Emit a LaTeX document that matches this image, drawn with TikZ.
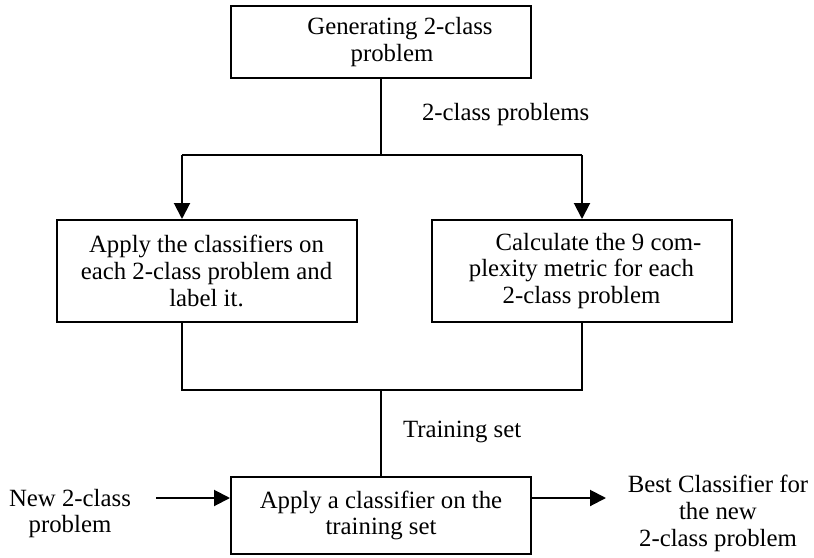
\documentclass[tikz,border=0pt]{standalone}
\usepackage{fontspec}
\setmainfont{Liberation Serif}
\usepackage{tikz}
\usetikzlibrary{arrows, arrows.meta}
\usetikzlibrary{positioning}
\usetikzlibrary{calc}

\begin{document}
\begin{tikzpicture}[x=0.5pt, y=-0.5pt, line width=1pt,
	every node/.style={font=\fontsize{12.4pt}{13.4pt}\selectfont, align=center, inner sep=0pt},
	stepbox/.style={draw, line width=1pt, minimum width=150pt},
	->/.style={-{Triangle[length=8pt, width=8pt]}}]
			\useasboundingbox (0,0) rectangle (814,557);
			% boxes
			\node[stepbox, minimum height=36pt] (gen) at (381,42) {\hspace*{19pt}Generating 2-class\\\hspace*{11pt}problem};
			\node[stepbox, minimum height=51pt] (lbox) at (206.5,271) {Apply the classifiers on\\each 2-class problem and\\label it.};
			\node[stepbox, minimum height=51pt] (rbox) at (581.5,271) {\hspace*{17pt}Calculate the 9 com-\\plexity metric for each\\2-class problem};
			\node[stepbox, minimum height=38.5pt] (apply) at (381,515.5) {Apply a classifier on the\\training set};
			% labels
			\node[anchor=west] (probs) at (421,115) {2-class problems};
			\node[anchor=west] (train) at (402,432) {Training set};
			\node (newp) at (70,513.5) {New 2-class\\problem};
			\node (best) at (718,513.5) {Best Classifier for\\the new\\2-class problem};
			% junctions
			\coordinate (jtop) at (381,155);
			\coordinate (jl) at (182,155);
			\coordinate (jr) at (582,155);
			\coordinate (bl) at (182,390);
			\coordinate (br) at (582,390);
			\coordinate (bm) at (381,390);
			\coordinate (nin) at (156,498);
			\coordinate (bout) at (606,498);
			\draw (gen.south) -- (jtop);
			\draw (jl) -- (jr);
			\foreach \j/\b in {jl/lbox, jr/rbox}
			{
				\draw[->] (\j) -- (\b.north -| \j);
			}
			\draw (lbox.south -| bl) -- (bl) -- (br) -- (rbox.south -| br);
			\draw (bm) -- (apply.north);
			\draw[->] (nin) -- (nin -| apply.west);
			\draw[->] (bout -| apply.east) -- (bout);
		\end{tikzpicture}
\end{document}
